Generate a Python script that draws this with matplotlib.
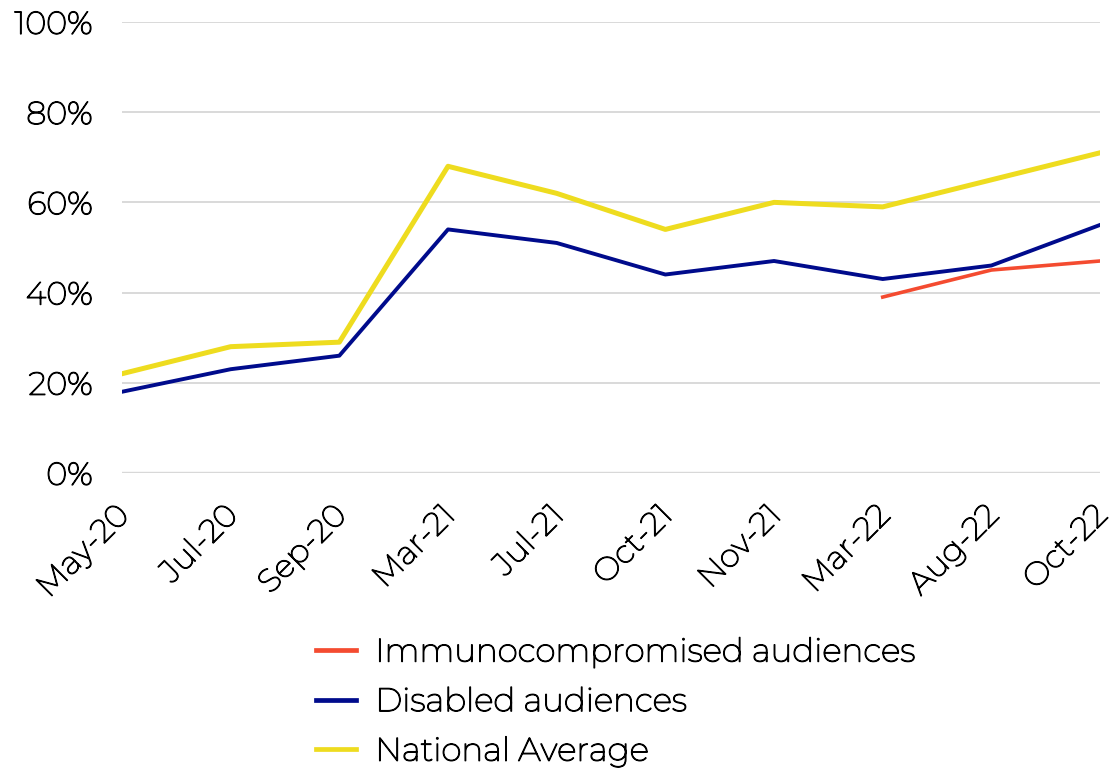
import matplotlib.pyplot as plt
import matplotlib.patheffects as pe
import matplotlib.transforms as mtransforms
from matplotlib.ticker import PercentFormatter

plt.rcParams['font.family'] = ['Montserrat', 'DejaVu Sans']

months = ['May-20', 'Jul-20', 'Sep-20', 'Mar-21', 'Jul-21',
          'Oct-21', 'Nov-21', 'Mar-22', 'Aug-22', 'Oct-22']
national = [22, 28, 29, 68, 62, 54, 60, 59, 65, 71]
disabled = [18, 23, 26, 54, 51, 44, 47, 43, 46, 55]
immuno_months = ['Mar-22', 'Aug-22', 'Oct-22']
immuno = [39, 45, 47]

fig = plt.figure(figsize=(11.14, 7.69), dpi=100)
ax = fig.add_axes([0.1095, 0.385, 0.878, 0.5864])

x = list(range(len(months)))
xi = [months.index(m) for m in immuno_months]

ax.plot(xi, immuno, color='#F44B30', lw=2.6, label='Immunocompromised audiences', zorder=4)
ax.plot(x, disabled, color='#000B8C', lw=2.8, label='Disabled audiences', zorder=3)
ax.plot(x, national, color='#EEDC1F', lw=3.6, label='National Average', zorder=2)

ax.set_ylim(0, 100)
ax.set_xlim(0, len(months) - 1)
ax.set_yticks(range(0, 101, 20))
ax.yaxis.set_major_formatter(PercentFormatter(decimals=0))
ax.set_xticks(x)
ax.set_xticklabels(months, rotation=45, ha='right', rotation_mode='anchor')
ax.tick_params(axis='both', length=0, labelsize=23, colors='black')
ax.tick_params(axis='y', pad=21)
ax.tick_params(axis='x', pad=15)

# nudge the slanted month labels a bit left and down
shift = mtransforms.ScaledTranslation(-8 / 100, -6 / 100, fig.dpi_scale_trans)
for t in ax.get_xticklabels():
    t.set_transform(t.get_transform() + shift)

ax.grid(axis='y', color='#D9D9D9', lw=1.4)
ax.axhline(0, color='#BFBFBF', lw=1.6, zorder=1)
for s in ax.spines.values():
    s.set_visible(False)

leg = ax.legend(loc='upper center', bbox_to_anchor=(0.505, -0.30), ncol=1, frameon=False,
                fontsize=23.5, handlelength=1.2, handletextpad=0.6, labelspacing=0.6)
for h in leg.get_lines():
    h.set_linewidth(3.4)

# the installed Montserrat is a light cut, thicken it a little
bold = [pe.withStroke(linewidth=0.9, foreground='black')]
for t in ax.get_xticklabels() + ax.get_yticklabels() + leg.get_texts():
    t.set_path_effects(bold)

fig.savefig('out.png', dpi=100)
